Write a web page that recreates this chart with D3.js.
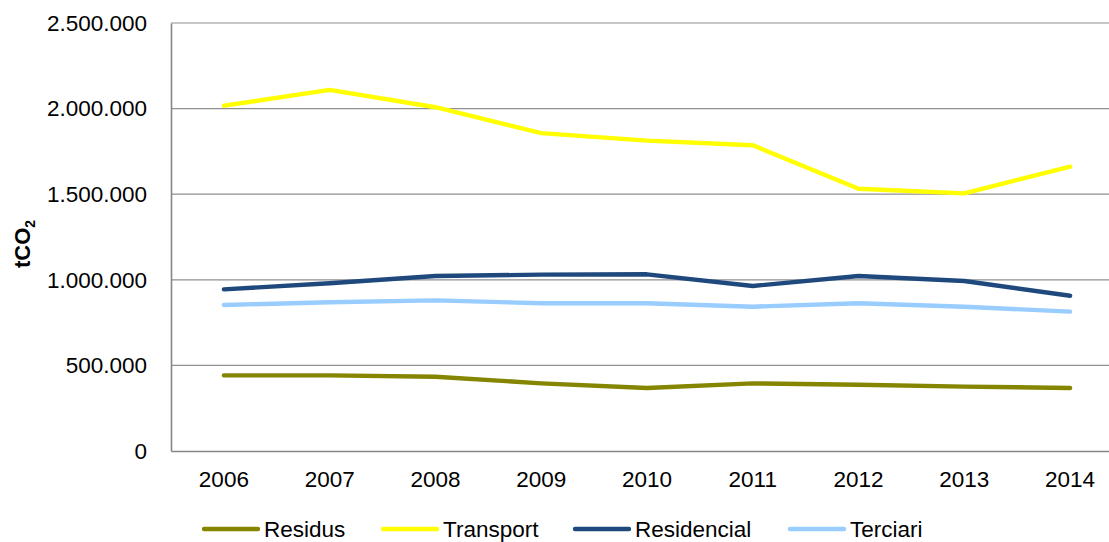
<!DOCTYPE html>
<html>
<head>
<meta charset="utf-8">
<script src="https://cdn.jsdelivr.net/npm/d3@7"></script>
<style>
  html, body { margin: 0; padding: 0; background: #fff; }
  svg { display: block; font-family: "Liberation Sans", Arial, sans-serif; }
</style>
</head>
<body>
<svg id="chart" width="1109" height="542"></svg>
<script>
const years = ["2006","2007","2008","2009","2010","2011","2012","2013","2014"];
const residus     = [442000, 442000, 434000, 395000, 368000, 395000, 387000, 376000, 368000];
const transport   = [2017000, 2109000, 2008000, 1857000, 1813000, 1786000, 1532000, 1505000, 1661000];
const residencial = [944000, 980000, 1022000, 1030000, 1032000, 964000, 1022000, 993000, 907000];
const terciari    = [853000, 869000, 880000, 863000, 863000, 843000, 863000, 843000, 814000];
const seriesNames = ["Residus", "Transport", "Residencial", "Terciari"];
const seriesColors = ["#858500", "#FFFF00", "#1F497D", "#99CCFF"];
const yTicks = [0, 500000, 1000000, 1500000, 2000000, 2500000];
const yTitle = "tCO";
const yTitleSub = "2";

const seriesValues = [residus, transport, residencial, terciari];
const series = seriesNames.map((n, i) => ({ name: n, color: seriesColors[i], values: seriesValues[i] }));

const svg = d3.select("#chart");
const m = { left: 171, top: 23, bottom: 451, right: 1123 };

const x = d3.scaleBand().domain(years).range([m.left, m.right]);
const y = d3.scaleLinear().domain([0, 2500000]).range([m.bottom, m.top]);

const fmt = v => d3.format(",")(v).replace(/,/g, ".");

// gridlines
svg.append("g").selectAll("line").data(yTicks.filter(d => d > 0)).join("line")
  .attr("x1", m.left).attr("x2", m.right)
  .attr("y1", d => y(d)).attr("y2", d => y(d))
  .attr("stroke", "#8f8f8f").attr("stroke-width", 1.2);

// axes
const yAxis = svg.append("g").attr("transform", `translate(${m.left},0)`)
  .call(d3.axisLeft(y).tickValues(yTicks).tickFormat(fmt).tickSize(0).tickPadding(24));
yAxis.select(".domain").attr("stroke", "#868686").attr("stroke-width", 1.6);
yAxis.selectAll("text").attr("font-size", "22.5px").attr("fill", "#000")
  .attr("font-family", "Liberation Sans, Arial, sans-serif");

const xAxis = svg.append("g").attr("transform", `translate(0,${m.bottom})`)
  .call(d3.axisBottom(x).tickSize(0).tickPadding(20));
xAxis.select(".domain").attr("stroke", "#868686").attr("stroke-width", 1.6);
xAxis.selectAll("text").attr("font-size", "22.5px").attr("fill", "#000")
  .attr("font-family", "Liberation Sans, Arial, sans-serif");

// y title
const yt = svg.append("text")
  .attr("transform", `translate(30,${(m.top + m.bottom) / 2 + 7}) rotate(-90)`)
  .attr("text-anchor", "middle")
  .attr("font-weight", "bold").attr("font-size", "22px").attr("fill", "#000");
yt.append("tspan").text(yTitle);
yt.append("tspan").attr("font-size", "14px").attr("dy", 5).text(yTitleSub);

// lines
const line = d3.line()
  .x((d, i) => x(years[i]) + x.bandwidth() / 2)
  .y(d => y(d));

svg.append("g").selectAll("path").data(series).join("path")
  .attr("d", s => line(s.values))
  .attr("fill", "none")
  .attr("stroke", s => s.color)
  .attr("stroke-width", 4.4)
  .attr("stroke-linejoin", "round")
  .attr("stroke-linecap", "round");

// legend
const legendX = [204, 383, 575, 790];
const lg = svg.append("g").selectAll("g").data(series).join("g")
  .attr("transform", (d, i) => `translate(${legendX[i]},529)`);
lg.append("line").attr("x1", 0).attr("x2", 54).attr("y1", 0).attr("y2", 0)
  .attr("stroke", d => d.color).attr("stroke-width", 4.4).attr("stroke-linecap", "round");
lg.append("text").attr("x", 60).attr("y", 8).attr("font-size", "22.5px").attr("fill", "#000")
  .text(d => d.name);
</script>
</body>
</html>
